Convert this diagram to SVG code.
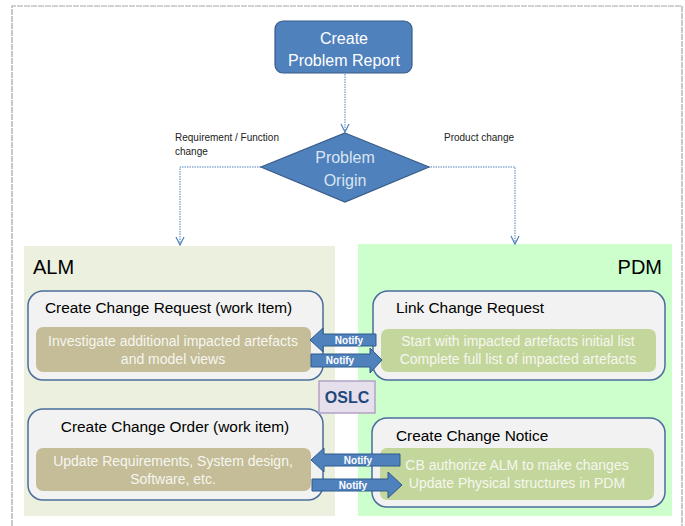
<svg xmlns="http://www.w3.org/2000/svg" width="685" height="526" viewBox="0 0 685 526">
  <style>
    text { font-family: "Liberation Sans", Arial, sans-serif; }
    .frame { fill: none; stroke: #a6a6a6; stroke-width: 1.2; stroke-dasharray: 6 1; }
    .flow { fill: #4f81bd; stroke: #385d8a; stroke-width: 1.2; }
    .flowtxt { fill: #ffffff; font-size: 16px; text-anchor: middle; }
    .diamtxt { fill: #dbe5f1; font-size: 16px; text-anchor: middle; }
    .conn { fill: none; stroke: #4f81bd; stroke-width: 1; stroke-dasharray: 1.5 1; }
    .lbl { fill: #222222; font-size: 10px; }
    .panel-alm { fill: #ebf1de; }
    .panel-pdm { fill: #ccffcc; }
    .paneltxt { fill: #000000; font-size: 20px; }
    .card { fill: #f2f2f2; stroke: #4a6d9c; stroke-width: 1.5; }
    .cardtxt { fill: #000000; font-size: 15.4px; }
    .tan { fill: #c4bd97; }
    .olive { fill: #c3d69b; }
    .innertxt { fill: #f6f6f0; font-size: 14px; text-anchor: middle; }
    .notify { fill: #4f81bd; stroke: #2f5a8e; stroke-width: 1; }
    .notifytxt { fill: #ffffff; font-size: 10px; font-weight: bold; text-anchor: middle; }
    .oslc { fill: #e5e0ec; stroke: #b3a2c7; stroke-width: 1.5; }
    .oslctxt { fill: #1f497d; font-size: 16px; font-weight: bold; text-anchor: middle; }
  </style>
  <defs>
    <marker id="vhead" viewBox="0 0 10 10" refX="9" refY="5" markerWidth="10" markerHeight="10" markerUnits="userSpaceOnUse" orient="auto">
      <path d="M1,1 L9,5 L1,9" fill="none" stroke="#4f81bd" stroke-width="1.2"/>
    </marker>
  </defs>

  <!-- page frame -->
  <path class="frame" d="M12,526 L12,6 L682,6 L682,526"/>

  <!-- swimlane backgrounds -->
  <g id="alm-panel">
    <rect class="panel-alm" x="24" y="246" width="311" height="270"/>
    <text class="paneltxt" x="33" y="274">ALM</text>
  </g>
  <g id="pdm-panel">
    <rect class="panel-pdm" x="358" y="244" width="314" height="272"/>
    <text class="paneltxt" x="662" y="274" text-anchor="end">PDM</text>
  </g>

  <!-- connectors -->
  <g id="connectors">
    <path class="conn" d="M345,74 L345,132" marker-end="url(#vhead)"/>
    <path class="conn" d="M261,167 L180,167 L180,245" marker-end="url(#vhead)"/>
    <path class="conn" d="M428,167 L515,167 L515,244" marker-end="url(#vhead)"/>
    <text class="lbl" x="175" y="141">Requirement / Function</text>
    <text class="lbl" x="175" y="155">change</text>
    <text class="lbl" x="444" y="141">Product change</text>
  </g>

  <g id="create-problem-report">
    <rect class="flow" x="275" y="21" width="137" height="52" rx="8"/>
    <text class="flowtxt" x="344" y="44">Create</text>
    <text class="flowtxt" x="344" y="66">Problem Report</text>
  </g>

  <g id="problem-origin">
    <polygon class="flow" points="345,133 429,167 345,202 261,167"/>
    <text class="diamtxt" x="345" y="163">Problem</text>
    <text class="diamtxt" x="345" y="186">Origin</text>
  </g>

  <g id="create-change-request">
    <rect class="card" x="28" y="291" width="295" height="89" rx="15"/>
    <text class="cardtxt" x="45" y="313">Create Change Request (work Item)</text>
    <rect class="tan" x="36" y="327" width="275" height="45" rx="7"/>
    <text class="innertxt" x="173" y="346">Investigate additional impacted artefacts</text>
    <text class="innertxt" x="173" y="364">and model views</text>
  </g>

  <g id="link-change-request">
    <rect class="card" x="373" y="291" width="292" height="89" rx="15"/>
    <text class="cardtxt" x="396" y="313">Link Change Request</text>
    <rect class="olive" x="381" y="329" width="275" height="43" rx="7"/>
    <text class="innertxt" x="518" y="346">Start with impacted artefacts initial list</text>
    <text class="innertxt" x="518" y="364">Complete full list of impacted artefacts</text>
  </g>

  <g id="create-change-order">
    <rect class="card" x="28" y="409" width="295" height="91" rx="15"/>
    <text class="cardtxt" x="175" y="432" text-anchor="middle">Create Change Order (work item)</text>
    <rect class="tan" x="36" y="448" width="275" height="43" rx="7"/>
    <text class="innertxt" x="173" y="466">Update Requirements, System design,</text>
    <text class="innertxt" x="173" y="484">Software, etc.</text>
  </g>

  <g id="create-change-notice">
    <rect class="card" x="372" y="418" width="293" height="89" rx="15"/>
    <text class="cardtxt" x="396" y="441">Create Change Notice</text>
    <rect class="olive" x="380" y="448" width="274" height="52" rx="7"/>
    <text class="innertxt" x="517" y="470">CB authorize ALM to make changes</text>
    <text class="innertxt" x="517" y="488">Update Physical structures in PDM</text>
  </g>

  <g id="oslc">
    <rect class="oslc" x="319" y="381" width="56" height="32"/>
    <text class="oslctxt" x="347" y="403">OSLC</text>
  </g>

  <!-- notification block arrows -->
  <g id="notify-1">
    <polygon class="notify" points="310,340 323,328 323,334 376,334 376,346 323,346 323,352"/>
    <text class="notifytxt" x="349" y="344">Notify</text>
  </g>
  <g id="notify-2">
    <polygon class="notify" points="311,354 370,354 370,348 382,360 370,373 370,367 311,367"/>
    <text class="notifytxt" x="340" y="364">Notify</text>
  </g>
  <g id="notify-3">
    <polygon class="notify" points="311,460 324,448 324,454 400,454 400,466 324,466 324,472"/>
    <text class="notifytxt" x="358" y="464">Notify</text>
  </g>
  <g id="notify-4">
    <polygon class="notify" points="312,479 388,479 388,472 402,485 388,498 388,491 312,491"/>
    <text class="notifytxt" x="353" y="489">Notify</text>
  </g>
</svg>
